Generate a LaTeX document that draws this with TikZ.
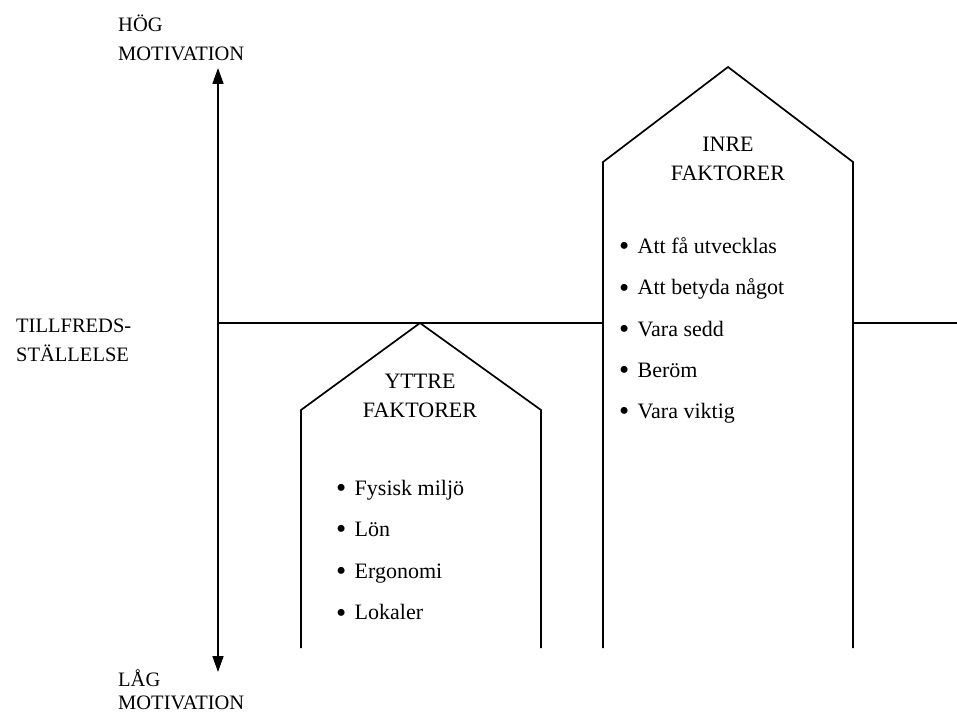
\documentclass[tikz,border=0pt]{standalone}
\usepackage{fontspec}
\setmainfont{Liberation Serif}
\usetikzlibrary{arrows.meta,positioning}
\tikzstyle{etikett} = [inner sep=0pt, align=left, anchor=north west, font=\fontsize{20.5}{29}\selectfont]
\tikzstyle{rubrik} = [inner sep=0pt, align=center, anchor=north, font=\fontsize{22}{29}\selectfont]
\tikzstyle{punkt} = [inner sep=0pt, anchor=base west, font=\fontsize{22}{26}\selectfont]
\tikzstyle{hus} = [line width=1.7pt, line join=miter]
\tikzstyle{pil} = [line width=1.7pt, {Triangle[length=16pt,width=11pt]}-{Triangle[length=16pt,width=11pt]}]
\newcommand{\prick}{\raisebox{-2.2pt}{\fontsize{29}{29}\selectfont\textbullet}\hspace{0.38em}}

\begin{document}
\begin{tikzpicture}[x=1pt, y=-1pt]
	\useasboundingbox (0,0) rectangle (957,714);
	% Axel
	\coordinate (topp) at (218,68);
	\coordinate (botten) at (218,672);
	\coordinate (nivaA) at (218,323);
	\coordinate (nivaB) at (603,323);
	\coordinate (nivaC) at (853,323);
	\coordinate (nivaD) at (957,323);
	\draw[pil] (botten) -- (topp);
	\draw[hus] (nivaA) -- (nivaB);
	\draw[hus] (nivaC) -- (nivaD);
	% Etiketter
	\node (hog) [etikett] at (118,15) {HÖG\\MOTIVATION};
	\node (lag) [etikett, font=\fontsize{20.5}{23.5}\selectfont] at (118,669) {LÅG\\MOTIVATION};
	\node (tillf) [etikett] at (16,319) {TILLFREDS-\\STÄLLELSE};
	% Hus
	\draw[hus] (301,648) -- (301,410) -- (420,323) -- (541,410) -- (541,648);
	\draw[hus] (603,648) -- (603,162) -- (728,67) -- (853,162) -- (853,648);
	\node (yttre) [rubrik] at (420,374) {YTTRE\\FAKTORER};
	\node (inre) [rubrik] at (728,136.5) {INRE\\FAKTORER};
	% Punkter
	\foreach \txt [count=\i] in {Fysisk miljö, Lön, Ergonomi, Lokaler}
		\node (y\i) [punkt] at (336,495+41.6*\i-41.6) {\prick\txt};
	\foreach \txt [count=\i] in {Att få utvecklas, Att betyda något, Vara sedd, Beröm, Vara viktig}
		\node (i\i) [punkt] at (619,253.5+41.3*\i-41.3) {\prick\txt};
\end{tikzpicture}
\end{document}
